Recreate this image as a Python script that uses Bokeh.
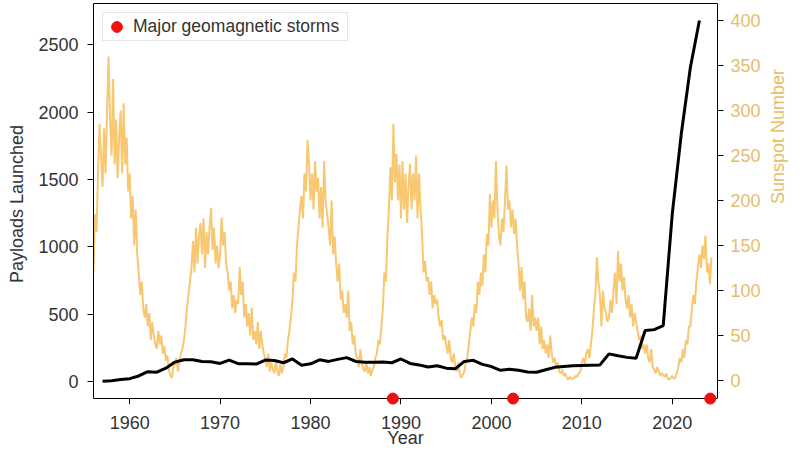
import math
import numpy as np
from bokeh.plotting import figure
from bokeh.models import Range1d, LinearAxis, FixedTicker, Legend, LegendItem
from bokeh.embed import file_html
from bokeh.resources import INLINE

# ---------------- data ----------------
launch_years = list(range(1957, 2024))
payloads = [3, 7, 15, 22, 42, 74, 70, 100, 145, 162,
            163, 150, 147, 135, 160, 133, 133, 130, 160, 157,
            140, 168, 122, 132, 162, 150, 165, 178, 150, 144,
            143, 146, 140, 168, 135, 124, 108, 118, 100, 95,
            150, 158, 128, 112, 84, 92, 84, 72, 70, 88,
            106, 113, 118, 120, 122, 124, 206, 192, 180, 173,
            379, 386, 416, 1248, 1842, 2333, 2682]

sunspot_start = 1956.0
sunspot_step = 1 / 6
sunspots = [
    120, 185, 165, 230, 285, 250,   # 1956
    215, 280, 230, 300, 360, 290,   # 1957
    250, 335, 240, 290, 225, 270,   # 1958
    300, 230, 308, 240, 270, 210,   # 1959
    230, 180, 205, 150, 190, 140,   # 1960
    120, 95, 110, 80, 70, 85,       # 1961
    60, 75, 45, 65, 50, 40,         # 1962
    35, 55, 40, 50, 30, 38,         # 1963
    22, 28, 12, 6, 3, 15,           # 1964
    18, 25, 10, 22, 30, 35,         # 1965
    45, 60, 80, 95, 110, 125,       # 1966
    155, 120, 170, 130, 160, 175,   # 1967
    140, 180, 125, 165, 140, 170,   # 1968
    192, 145, 170, 130, 150, 125,   # 1969
    140, 181, 150, 165, 130, 120,   # 1970
    100, 110, 80, 95, 75, 90,       # 1971
    85, 126, 95, 110, 70, 85,       # 1972
    60, 75, 50, 81, 45, 55,         # 1973
    40, 65, 35, 55, 40, 30,         # 1974
    25, 15, 30, 10, 20, 12,         # 1975
    8, 22, 10, 5, 18, 8,            # 1976
    15, 30, 25, 45, 55, 70,         # 1977
    90, 120, 110, 150, 170, 190,    # 1978
    205, 180, 230, 210, 267, 240,   # 1979
    200, 230, 190, 244, 210, 225,   # 1980
    180, 215, 170, 244, 200, 185,   # 1981
    170, 150, 200, 140, 160, 130,   # 1982
    110, 130, 90, 100, 75, 85,      # 1983
    70, 100, 55, 65, 40, 50,        # 1984
    30, 25, 15, 35, 20, 12,         # 1985
    10, 20, 8, 15, 5, 12,           # 1986
    15, 25, 30, 45, 40, 60,         # 1987
    80, 120, 110, 160, 190, 237,    # 1988
    200, 285, 220, 252, 200, 240,   # 1989
    180, 244, 190, 230, 175, 215,   # 1990
    241, 190, 230, 200, 250, 180,   # 1991
    230, 190, 163, 120, 133, 110,   # 1992
    115, 95, 110, 80, 95, 85,       # 1993
    90, 70, 60, 67, 45, 50,         # 1994
    40, 30, 45, 25, 20, 30,         # 1995
    15, 10, 20, 8, 3, 6,            # 1996
    10, 20, 25, 40, 55, 70,         # 1997
    60, 85, 75, 110, 95, 120,       # 1998
    105, 140, 120, 163, 150, 207,   # 1999
    170, 200, 180, 244, 190, 160,   # 2000
    150, 180, 165, 200, 239, 190,   # 2001
    200, 170, 190, 163, 180, 150,   # 2002
    130, 100, 126, 90, 110, 70,     # 2003
    65, 80, 55, 95, 60, 70,         # 2004
    55, 70, 40, 60, 35, 45,         # 2005
    30, 40, 25, 50, 30, 20,         # 2006
    25, 15, 20, 10, 8, 12,          # 2007
    5, 8, 3, 1, 4, 2,               # 2008
    2, 3, 5, 4, 8, 10,              # 2009
    20, 25, 18, 30, 35, 25,         # 2010
    40, 55, 80, 95, 137, 110,       # 2011
    95, 60, 100, 80, 75, 65,        # 2012
    70, 90, 75, 100, 120, 85,       # 2013
    144, 110, 130, 100, 115, 90,    # 2014
    80, 95, 70, 85, 60, 75,         # 2015
    65, 55, 45, 50, 35, 40,         # 2016
    30, 40, 25, 20, 35, 15,         # 2017
    12, 8, 15, 10, 5, 8,            # 2018
    6, 4, 8, 2, 1, 3,               # 2019
    5, 2, 3, 8, 15, 25,             # 2020
    20, 35, 25, 45, 40, 60,         # 2021
    60, 80, 95, 85, 110, 126,       # 2022
    140, 125, 150, 135, 161, 120,   # 2023
    130, 107, 137,                  # 2024
]

storm_years = [1989.1, 2002.4, 2024.2]

x_ticks = [1960, 1970, 1980, 1990, 2000, 2010, 2020]
left_ticks = [0, 500, 1000, 1500, 2000, 2500]
right_ticks = [0, 50, 100, 150, 200, 250, 300, 350, 400]

# ---------------- styling ----------------
FONT = "Liberation Sans"
TXT = "#333333"
SUN_LINE = "#F7C772"
SUN_TXT = "#E6BD6C"

# value where the x axis line sits, plus a little frame room below it for the dots
left_base, left_lo, left_hi = -126, -170, 2808
sun_base, sun_lo, sun_hi = -20, -26.7, 419

p = figure(width=800, height=450, output_backend="svg", toolbar_location=None,
           x_range=Range1d(1956.0, 2025.0), y_range=Range1d(left_lo, left_hi),
           min_border_left=93, min_border_right=82, min_border_top=3, min_border_bottom=46)
p.extra_y_ranges = {"sun": Range1d(sun_lo, sun_hi)}
p.grid.visible = False
p.outline_line_color = None
p.background_fill_color = "white"
p.border_fill_color = "white"

sun_t = sunspot_start + np.arange(len(sunspots)) * sunspot_step
p.line(sun_t, sunspots, y_range_name="sun", line_color=SUN_LINE, line_width=2)
p.line(launch_years, payloads, line_color="black", line_width=3)
storm_r = p.scatter(storm_years, [left_base] * len(storm_years), size=11,
                    fill_color="#EE1111", line_color="#EE1111", level="overlay")

def style_axis(ax, color):
    ax.major_label_text_font = FONT
    ax.major_label_text_font_size = "18px"
    ax.major_label_text_color = color
    ax.axis_label_text_font = FONT
    ax.axis_label_text_font_size = "18px"
    ax.axis_label_text_font_style = "normal"
    ax.axis_label_text_color = color
    ax.axis_line_color = "black"
    ax.major_tick_line_color = "black"
    ax.major_tick_out = 6
    ax.major_tick_in = 0
    ax.minor_tick_line_color = None

# x axis carrying the tick labels and title (no line, no ticks)
xa = p.xaxis[0]
xa.ticker = FixedTicker(ticks=x_ticks)
xa.axis_label = "Year"
style_axis(xa, TXT)
xa.axis_line_color = None
xa.major_tick_line_color = None
xa.major_tick_out = 0
xa.major_label_standoff = 11
xa.axis_label_standoff = -4

# x axis line and ticks, fixed at the base of the data area
xline = LinearAxis(ticker=FixedTicker(ticks=x_ticks), fixed_location=left_base,
                   major_label_overrides={t: "" for t in x_ticks})
style_axis(xline, TXT)
xline.major_label_text_font_size = "1px"
xline.major_label_standoff = 0
p.add_layout(xline, "below")

ya = p.yaxis[0]
ya.ticker = FixedTicker(ticks=left_ticks)
ya.axis_label = "Payloads Launched"
ya.bounds = (left_base, left_hi)
style_axis(ya, TXT)
ya.major_label_standoff = 9
ya.axis_label_standoff = 8

ra = LinearAxis(y_range_name="sun", ticker=FixedTicker(ticks=right_ticks),
                axis_label="Sunspot Number", bounds=(sun_base, sun_hi))
style_axis(ra, SUN_TXT)
ra.major_label_standoff = 7
ra.axis_label_standoff = 14
ra.axis_label_orientation = math.pi / 2
p.add_layout(ra, "right")

top = LinearAxis(ticker=FixedTicker(ticks=[]), axis_line_color="black",
                 major_tick_line_color=None, minor_tick_line_color=None,
                 major_label_text_font_size="0px")
p.add_layout(top, "above")

legend = Legend(items=[LegendItem(label="Major geomagnetic storms", renderers=[storm_r])],
                location="top_left", margin=9, padding=0, spacing=0,
                glyph_width=27, glyph_height=27, label_height=17, label_standoff=3,
                label_width=214,
                label_text_font=FONT, label_text_font_size="17.5px", label_text_color=TXT,
                border_line_color="#CCCCCC", border_line_width=1,
                background_fill_color="white", background_fill_alpha=0.9)
p.add_layout(legend)

open("out.html", "w").write(file_html(p, INLINE))
